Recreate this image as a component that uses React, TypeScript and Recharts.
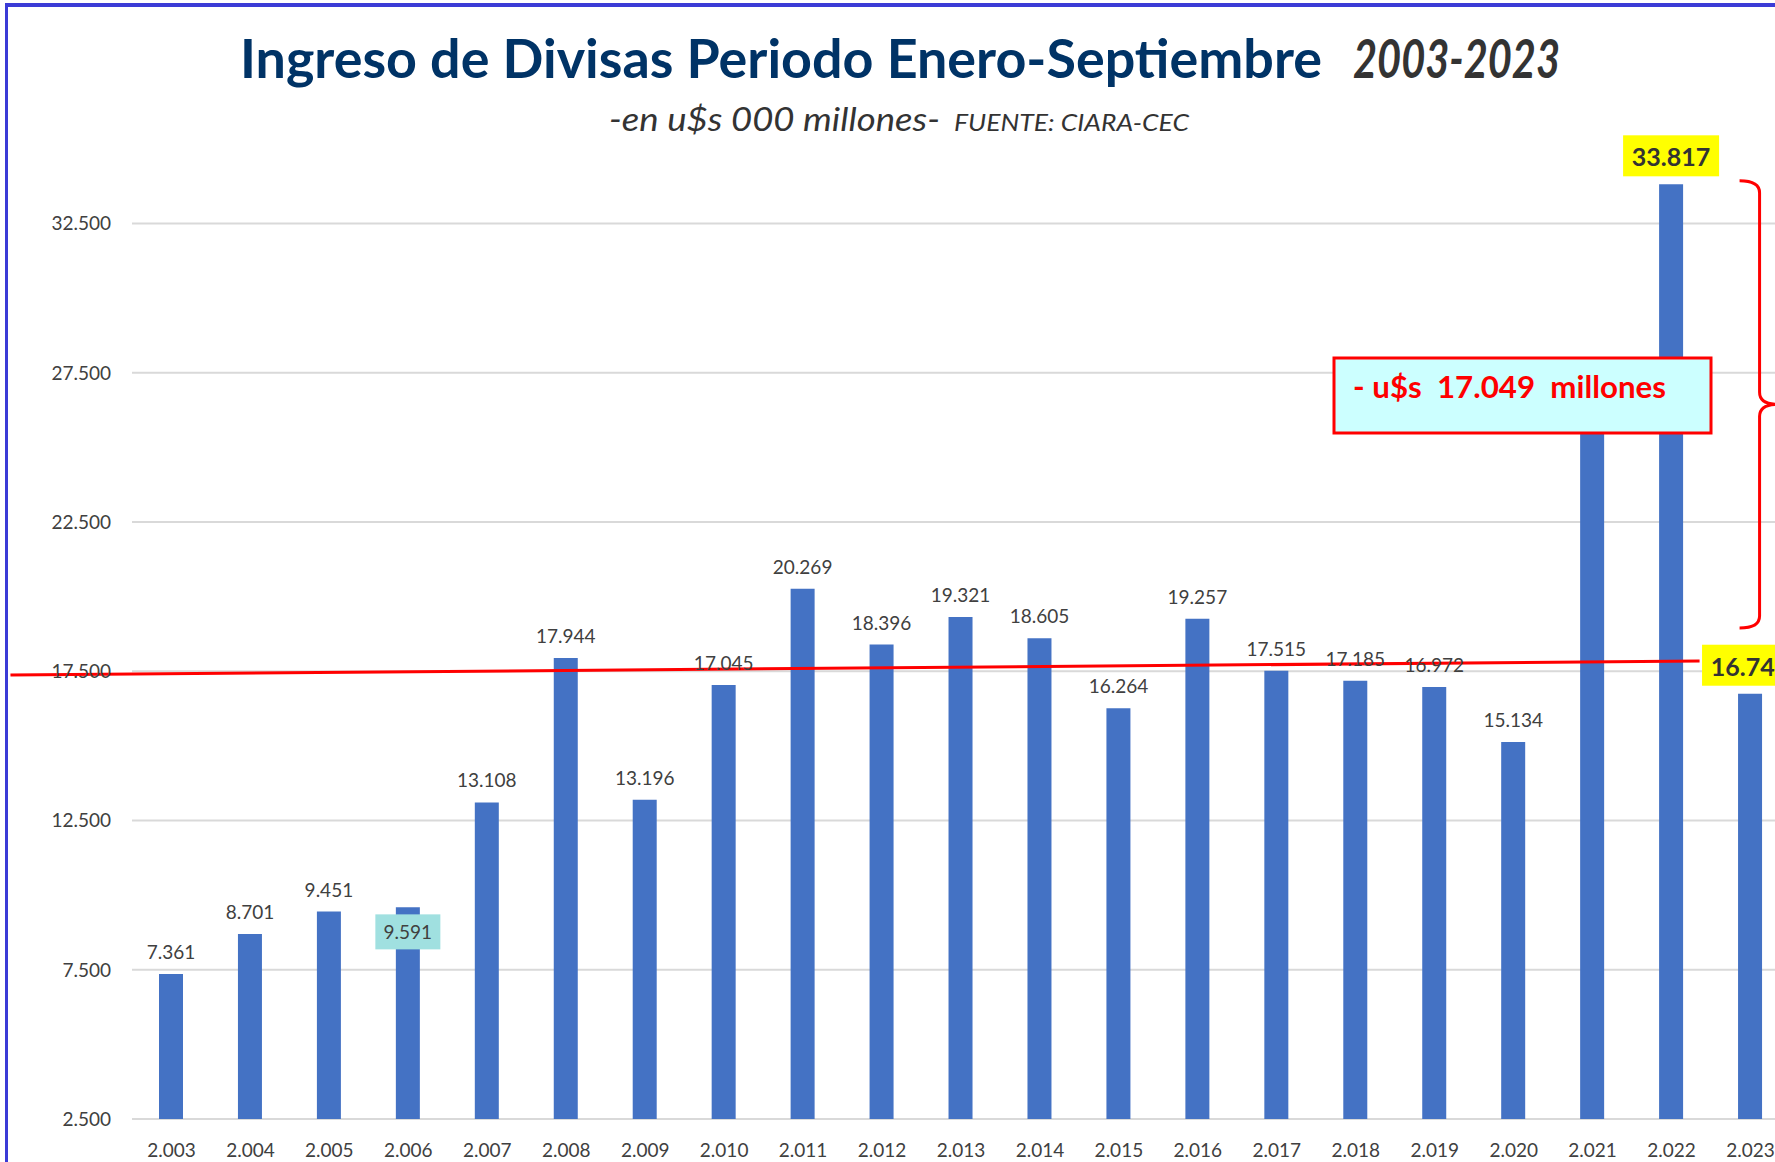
import React from 'react';
import { BarChart, Bar, XAxis, YAxis, CartesianGrid, LabelList, ReferenceLine } from 'recharts';

// Ingreso de divisas ene-sep, en millones de u$s
const years = [
  '2.003', '2.004', '2.005', '2.006', '2.007', '2.008', '2.009', '2.010', '2.011', '2.012', '2.013',
  '2.014', '2.015', '2.016', '2.017', '2.018', '2.019', '2.020', '2.021', '2.022', '2.023',
];
const ingresos = [
  7361, 8701, 9451, 9591, 13108, 17944, 13196, 17045, 20269, 18396, 19321,
  18605, 16264, 19257, 17515, 17185, 16972, 15134, 27900, 33817, 16749,
];
const yTicks = [2500, 7500, 12500, 17500, 22500, 27500, 32500];

// annotations
const trendFrom = { x: '2.003', y: 17420 };
const trendTo = { x: '2.022', y: 17835 };
const bracketTop = { x: '2.022', y: 33940 };
const bracketBottom = { x: '2.022', y: 18950 };
const yellowLabels = ['2.022', '2.023'];
const cyanLabels = ['2.006'];
const hiddenLabels = ['2.021'];

const data = years.map((year, i) => ({ year, value: ingresos[i] }));

const FONT = 'Lato, "Open Sans", sans-serif';
const fmt = (v: number) => String(Math.round(v)).replace(/\B(?=(\d{3})+(?!\d))/g, '.');

const renderLabel = (props: any) => {
  const vb = props.viewBox ?? props;
  const x = Number(vb.x ?? props.x);
  const y = Number(vb.y ?? props.y);
  const w = Number(vb.width ?? props.width);
  const value = Number(props.value);
  const idx = props.index ?? ingresos.indexOf(value);
  const year = years[idx];
  const cx = x + w / 2;
  if (hiddenLabels.includes(year)) return null;
  if (yellowLabels.includes(year)) {
    return (
      <g>
        <rect x={cx - 48} y={y - 49} width={96} height={41} fill="#FFFF00" />
        <text x={cx} y={y - 18} textAnchor="middle" fontSize={25} fontWeight={700} fill="#333333" fontFamily={FONT}>
          {fmt(value)}
        </text>
      </g>
    );
  }
  if (cyanLabels.includes(year)) {
    return (
      <g>
        <rect x={cx - 32.5} y={y + 7} width={65} height={35} fill="#A0E0E0" />
        <text x={cx} y={y + 32} textAnchor="middle" fontSize={19} fill="#404040" fontFamily={FONT}>
          {fmt(value)}
        </text>
      </g>
    );
  }
  return (
    <text x={cx} y={y - 15} textAnchor="middle" fontSize={19} fill="#404040" fontFamily={FONT}>
      {fmt(value)}
    </text>
  );
};

const TrendShape = (p: any) => {
  const { x1, y1, x2, y2 } = p;
  const slope = (y2 - y1) / (x2 - x1);
  const left = 161;
  const right = 28;
  return (
    <line
      x1={x1 - left}
      y1={y1 - slope * left}
      x2={x2 + right}
      y2={y2 + slope * right}
      stroke="#FF0000"
      strokeWidth={3}
    />
  );
};

const BraceShape = (p: any) => {
  const { x1, y1, y2 } = p;
  const xe = x1 + 68;
  const xv = x1 + 88;
  const xt = x1 + 106;
  const ym = (y1 + y2) / 2;
  const r = 12;
  const d = `M ${xe} ${y1} Q ${xv} ${y1} ${xv} ${y1 + r} L ${xv} ${ym - r} Q ${xv} ${ym} ${xt} ${ym}
    Q ${xv} ${ym} ${xv} ${ym + r} L ${xv} ${y2 - r} Q ${xv} ${y2} ${xe} ${y2}`;
  return <path d={d} fill="none" stroke="#FF0000" strokeWidth={3} />;
};

const App = () => {
  return (
    <div style={{ position: 'fixed', left: 0, top: 0, width: 1775, height: 1162, overflow: 'hidden', background: '#fff' }}>
      <div style={{ position: 'absolute', left: 0, top: 0 }}>
        <BarChart width={1802} height={1162} data={data} margin={{ top: 149, right: 12, left: 0, bottom: 0 }}>
          <CartesianGrid vertical={false} stroke="#D9D9D9" strokeWidth={2} horizontalValues={yTicks} />
          <XAxis
            dataKey="year"
            interval={0}
            tickLine={false}
            axisLine={false}
            tickSize={0}
            tickMargin={25}
            height={43}
            tick={{ fontSize: 19, fill: '#404040', fontFamily: FONT }}
          />
          <YAxis
            type="number"
            domain={[2500, 35000]}
            ticks={yTicks}
            tickFormatter={fmt}
            width={132}
            tickLine={false}
            axisLine={false}
            tickSize={0}
            tickMargin={21}
            tick={{ fontSize: 19, fill: '#404040', fontFamily: FONT }}
          />
          <Bar dataKey="value" fill="#4472C4" barSize={24} isAnimationActive={false}>
            <LabelList dataKey="value" content={renderLabel} />
          </Bar>
          <ReferenceLine segment={[trendFrom, trendTo]} ifOverflow="visible" shape={TrendShape} />
          <ReferenceLine segment={[bracketTop, bracketBottom]} ifOverflow="visible" shape={BraceShape} />
        </BarChart>
      </div>
      <svg width={1775} height={1162} style={{ position: 'absolute', left: 0, top: 0, pointerEvents: 'none' }}>
        <text x={240} y={78} fontSize={53} fontWeight={700} fill="#003366" fontFamily={FONT}
          textLength={1082} lengthAdjust="spacingAndGlyphs">
          Ingreso de Divisas Periodo Enero-Septiembre
        </text>
        <text x={1353} y={78} fontSize={53} fontWeight={700} fontStyle="italic" fill="#333333" fontFamily={FONT}
          textLength={207} lengthAdjust="spacingAndGlyphs">
          2003-2023
        </text>
        <text x={609} y={131} fontSize={33} fontStyle="italic" fill="#333333" fontFamily={FONT}
          textLength={331} lengthAdjust="spacingAndGlyphs">
          -en u$s 000 millones-
        </text>
        <text x={954} y={131} fontSize={23} fontStyle="italic" fill="#333333" fontFamily={FONT}
          textLength={235} lengthAdjust="spacingAndGlyphs">
          FUENTE: CIARA-CEC
        </text>
        <rect x={1334} y={358} width={377} height={75} fill="#CCFFFF" stroke="#FF0000" strokeWidth={3} />
        <text x={1353} y={398} fontSize={30} fontWeight={700} fill="#FF0000" fontFamily={FONT}
          textLength={313} lengthAdjust="spacingAndGlyphs" xmlSpace="preserve">
          - u$s  17.049  millones
        </text>
      </svg>
      <div style={{ position: 'absolute', left: 5, top: 3, right: 0, bottom: 0, borderLeft: '3px solid #3B3BD6', borderTop: '4px solid #3B3BD6' }} />
    </div>
  );
};

export default App;
